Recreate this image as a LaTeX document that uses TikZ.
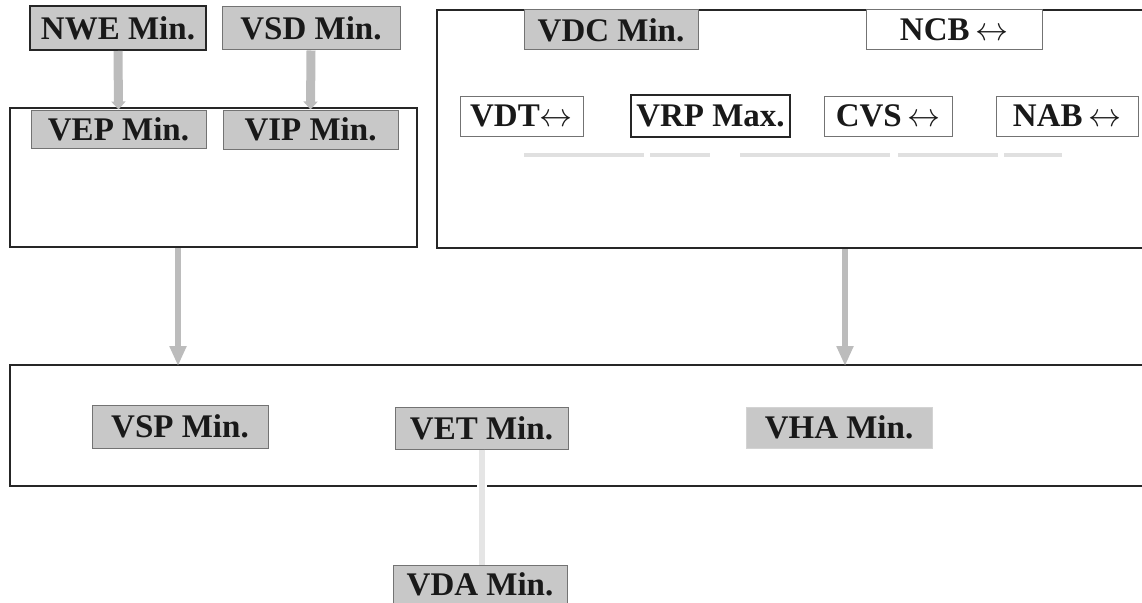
\RequirePackage{fix-cm}
\documentclass[tikz,border=0pt]{standalone}
\usepackage{fontspec}
\setmainfont{Liberation Serif}
\usetikzlibrary{arrows.meta}
\definecolor{boxgray}{HTML}{C8C8C8}
\definecolor{arrgray}{HTML}{BCBCBC}
\newcommand{\lrarr}{\,$\leftrightarrow$}
\tikzset{
  base/.style={inner sep=0pt, font=\bfseries\fontsize{33}{33}\selectfont, text=black!90},
  graybox/.style={base, draw=black!55, line width=1pt, fill=boxgray},
  darkgray/.style={base, draw=black!85, line width=2pt, fill=boxgray},
  whitebox/.style={base, draw=black!55, line width=1pt, fill=white},
  darkwhite/.style={base, draw=black!85, line width=2pt, fill=white},
  softbox/.style={base, draw=boxgray!80, line width=1pt, fill=boxgray},
  frame/.style={draw=black!85, line width=2.2pt},
  bigarrow/.style={draw=arrgray, line width=6pt, -{Triangle[width=16pt,length=20pt]}},
  smallarrow/.style={draw=arrgray, line width=9pt, -{Triangle[width=14pt,length=8pt]}},
  faintline/.style={draw=black!12, line width=4pt},
}
\begin{document}
\begin{tikzpicture}[x=1pt,y=-1pt]
\useasboundingbox (0,0) rectangle (1142,602);
% containers
\draw[frame] (10,108) rectangle (417,247);
\draw[frame] (1143,10) -- (437,10) -- (437,248) -- (1143,248);
\draw[frame] (1143,365) -- (10,365) -- (10,486) -- (477,486);
\draw[frame] (487,486) -- (1143,486);
\coordinate (lcb) at (178,248);
\coordinate (rcb) at (845,249);
\coordinate (bct1) at (178,366);
\coordinate (bct2) at (845,366);
% faint smeared line
\draw[faintline, dash pattern=on 120pt off 6pt on 60pt off 30pt on 150pt off 8pt on 100pt off 6pt on 60pt] (524,155) -- (1062,155);
% top-left nodes
\node[darkgray, minimum width=176pt, minimum height=44pt] (nwe) at (118,28) {NWE Min.};
\node[graybox, minimum width=178pt, minimum height=43pt] (vsd) at (311,28.5) {VSD Min.};
\node[graybox, minimum width=175pt, minimum height=38pt] (vep) at (118.5,129) {VEP Min.};
\node[graybox, minimum width=175pt, minimum height=39pt] (vip) at (310.5,129.5) {VIP Min.};
% right container nodes
\node[graybox, minimum width=174pt, minimum height=40pt] (vdc) at (611,30) {VDC Min.};
\node[whitebox, minimum width=176pt, minimum height=40pt] (ncb) at (954,30) {NCB\lrarr};
\node[whitebox, minimum width=123pt, minimum height=40pt] (vdt) at (521.5,116) {VDT$\leftrightarrow$};
\node[darkwhite, minimum width=159pt, minimum height=42pt] (vrp) at (710.5,116) {VRP Max.};
\node[whitebox, minimum width=128pt, minimum height=40pt] (cvs) at (888,116) {CVS\lrarr};
\node[whitebox, minimum width=142pt, minimum height=40pt] (nab) at (1067,116) {NAB\lrarr};
% bottom container nodes
\node[graybox, minimum width=176pt, minimum height=43pt] (vsp) at (180,426.5) {VSP Min.};
\node[graybox, minimum width=173pt, minimum height=42pt] (vet) at (481.5,428) {VET Min.};
\node[softbox, minimum width=186pt, minimum height=41pt] (vha) at (839,427.5) {VHA Min.};
\node[graybox, minimum width=174pt, minimum height=38pt] (vda) at (480,584) {VDA Min.};
% connectors
\draw[smallarrow] (nwe.south) -- (vep.north);
\draw[smallarrow] (vsd.south) -- (vip.north);
\draw[bigarrow] (lcb) -- (bct1);
\draw[bigarrow] (rcb) -- (bct2);
\draw[draw=black!10, line width=6pt] (vet.south -| 482,0) -- (vda.north -| 482,0);
\end{tikzpicture}
\end{document}
